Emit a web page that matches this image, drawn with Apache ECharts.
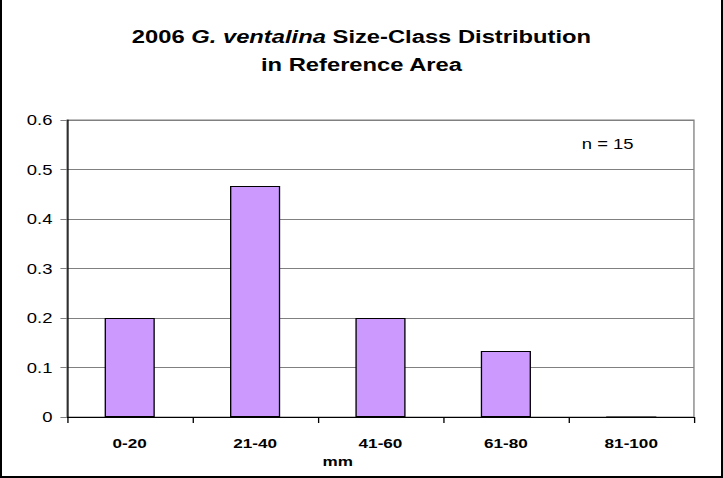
<!DOCTYPE html>
<html><head><meta charset="utf-8">
<script src="https://cdn.jsdelivr.net/npm/echarts@6/dist/echarts.min.js"></script>
<style>
html,body{margin:0;padding:0;background:#fff;overflow:hidden;}
#wrap{position:absolute;left:0;top:0;width:723px;height:478px;box-sizing:border-box;border-left:2px solid #000;border-right:2px solid #000;border-bottom:2px solid #000;pointer-events:none;}
#c{position:absolute;left:0;top:0;width:548px;height:478px;transform:scaleX(1.3193);transform-origin:0 0;}
</style></head>
<body>
<div id="c"></div><div id="wrap"></div>
<script>
const categories = ['0-20','21-40','41-60','61-80','81-100'];
const proportions = [0.2, 0.4667, 0.2, 0.1333, 0];
const yTicks = [0, 0.1, 0.2, 0.3, 0.4, 0.5, 0.6];
const chart = echarts.init(document.getElementById('c'), null, {renderer:'svg', width:548, height:478});
const font = 'Liberation Sans, Arial, sans-serif';
chart.setOption({
  animation:false,
  backgroundColor:'#fff',
  title:{
    text:'{b|2006 }{i|G. ventalina}{b| Size-Class Distribution}\n{b|in Reference Area}',
    left:'center', top:18,
    textStyle:{
      fontFamily:font, fontSize:18, lineHeight:28,
      rich:{
        b:{fontFamily:font,fontSize:18,fontWeight:'bold',color:'#000',lineHeight:28},
        i:{fontFamily:font,fontSize:18,fontWeight:'bold',fontStyle:'italic',color:'#000',lineHeight:28}
      }
    }
  },
  grid:{left:50.8,right:22,top:120,bottom:61,show:true,borderColor:'#808080',borderWidth:1,backgroundColor:'transparent'},
  xAxis:{
    type:'category', data:categories,
    axisLine:{lineStyle:{color:'#000',width:1}},
    axisTick:{show:true,length:6,lineStyle:{color:'#000'}},
    axisLabel:{fontFamily:font,fontSize:13,fontWeight:'bold',color:'#000',margin:20}
  },
  yAxis:{
    type:'value', min:0, max:0.6, interval:0.1,
    axisLine:{show:true,lineStyle:{color:'#000',width:1}},
    axisTick:{show:true,length:5,lineStyle:{color:'#808080'}},
    splitLine:{lineStyle:{color:'#808080',width:1}},
    axisLabel:{fontFamily:font,fontSize:14,color:'#000',margin:11,
      formatter:v=>{const t=yTicks.find(x=>Math.abs(x-v)<1e-9);return String(t!==undefined?t:v);}}
  },
  graphic:[
    {type:'text',left:441,top:137,style:{text:'n = 15',fontFamily:font,fontSize:14,fill:'#000'}},
    {type:'text',x:256,y:461,style:{text:'mm',fontFamily:font,fontSize:13,fontWeight:'bold',fill:'#000',align:'center',verticalAlign:'middle'}}
  ],
  series:[{
    type:'bar', data:proportions, barCategoryGap:'60%',
    itemStyle:{color:'#CC99FF',borderColor:'#000',borderWidth:1}
  }]
});
</script>
</body></html>
